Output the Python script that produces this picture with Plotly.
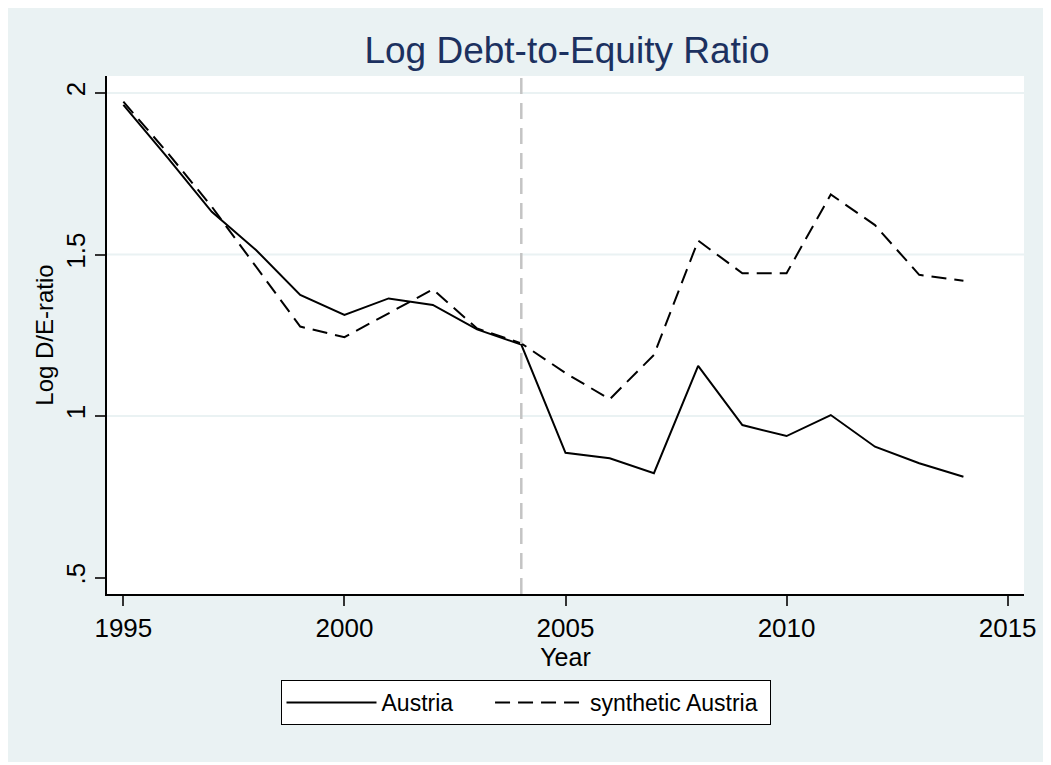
import plotly.graph_objects as go

years = list(range(1995, 2015))
austria = [1.963, 1.800, 1.632, 1.514, 1.375, 1.313, 1.364, 1.344, 1.268, 1.221,
           0.886, 0.869, 0.823, 1.155, 0.972, 0.938, 1.003, 0.905, 0.854, 0.812]
synthetic = [1.973, 1.815, 1.648, 1.463, 1.277, 1.244, 1.318, 1.392, 1.271, 1.225,
             1.133, 1.052, 1.189, 1.543, 1.442, 1.442, 1.686, 1.591, 1.437, 1.419]
series_names = ["Austria", "synthetic Austria"]
treatment_year = 2004
x_ticks = [1995, 2000, 2005, 2010, 2015]
y_ticks = [0.5, 1, 1.5, 2]
y_tick_labels = [".5", "1", "1.5", "2"]

FONT = "Liberation Sans, Arial, sans-serif"
BG = "#EAF2F3"
NBSP = "\u00a0"

# page body has an 8px margin: figure spans x 8..1051, y 8..765
OFF = 8
W, H = 1051 - OFF, 765 - OFF
L, T = 107 - OFF, 76 - OFF
R, B = 27, 171
PW, PH = W - L - R, H - T - B

fig = go.Figure()
fig.add_trace(go.Scatter(x=years, y=austria, mode="lines", name=series_names[0] + NBSP * 5,
                         line=dict(color="black", width=2)))
fig.add_trace(go.Scatter(x=years, y=synthetic, mode="lines", name=series_names[1] + NBSP,
                         line=dict(color="black", width=2, dash="15px,8px")))

# gridlines (none at the lower axis limit, as in the reference)
for yv in y_ticks[1:]:
    fig.add_hline(y=yv, line=dict(color=BG, width=2), layer="below")

fig.add_vline(x=treatment_year, line=dict(color="#C4C4C4", width=2.5, dash="16px,9px"))

fig.update_layout(
    width=W, height=H,
    margin=dict(l=L, r=R, t=T, b=B),
    paper_bgcolor=BG, plot_bgcolor="white",
    font=dict(family=FONT, size=23, color="black"),
    title=dict(text="Log Debt-to-Equity Ratio", x=(567 - OFF) / W, xanchor="center",
               y=1 - (50 - OFF) / H, yanchor="middle",
               font=dict(family=FONT, size=37, color="#1C3160")),
    showlegend=True,
    legend=dict(orientation="h", x=(525.5 - 107) / PW, xanchor="center",
                y=(594 - 680) / PH, yanchor="top",
                bgcolor="white", bordercolor="black", borderwidth=1,
                font=dict(family=FONT, size=23, color="black"),
                itemwidth=90, tracegroupgap=0),
    xaxis=dict(range=[1994.63, 2015.37], tickvals=x_ticks, ticks="outside", ticklen=10,
               tickcolor="#333333", tickwidth=1.5, showgrid=False, zeroline=False,
               showline=True, linecolor="black", linewidth=1.5,
               tickfont=dict(size=26), title=dict(text="Year", standoff=0, font=dict(size=25))),
    yaxis=dict(range=[0.449, 2.0526], tickvals=y_ticks, ticktext=y_tick_labels,
               tickangle=-90, ticks="outside", ticklen=10, tickcolor="#333333", tickwidth=1.5,
               showgrid=False, zeroline=False,
               showline=True, linecolor="black", linewidth=1.5,
               tickfont=dict(size=26), title=dict(text="Log D/E-ratio", standoff=0, font=dict(size=24))),
)

# thin white frame at the right and bottom edges of the graph region
fig.add_shape(type="line", xref="paper", yref="paper",
              x0=1 + (R - 1.5) / PW, x1=1 + (R - 1.5) / PW,
              y0=-B / PH, y1=1 + T / PH, line=dict(color="white", width=3), layer="below")
fig.add_shape(type="line", xref="paper", yref="paper",
              x0=-L / PW, x1=1 + R / PW,
              y0=-(B - 1.5) / PH, y1=-(B - 1.5) / PH, line=dict(color="white", width=3), layer="below")

fig.write_html("out.html")
